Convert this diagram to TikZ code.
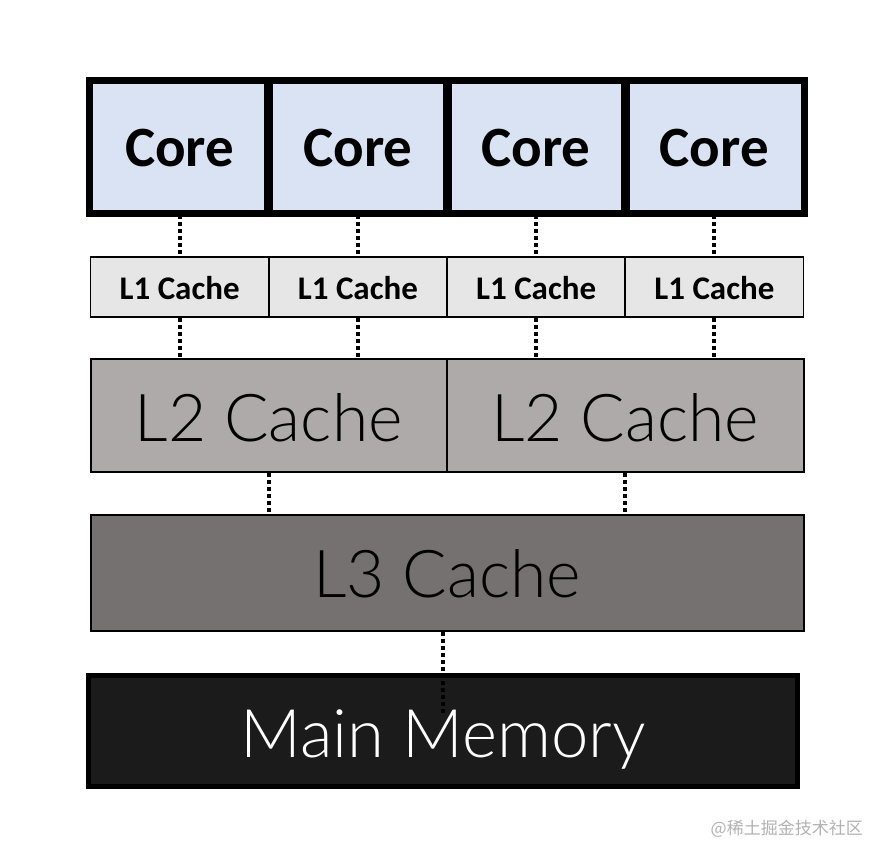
\documentclass[tikz,border=0pt]{standalone}
\usepackage{fontspec}
\setmainfont{Carlito}
\newfontfamily\thinfont{Lato}[UprightFont={* Light}]
\newfontfamily\cjkfont{Noto Sans CJK SC}
\definecolor{corefill}{HTML}{DAE3F3}
\definecolor{lonefill}{HTML}{E7E6E6}
\definecolor{ltwofill}{HTML}{AEAAAA}
\definecolor{lthreefill}{HTML}{767171}
\definecolor{memfill}{HTML}{1B1B1B}
\begin{document}
\begin{tikzpicture}[x=1pt,y=-1pt,
  corebox/.style={draw=black,line width=4.5pt,fill=corefill,minimum width=178.25pt,minimum height=131pt,inner sep=0pt,
    text height=38pt,text depth=0pt,font=\bfseries\fontsize{57}{60}\selectfont},
  lonebox/.style={draw=black,line width=1.8pt,fill=lonefill,minimum width=178.25pt,minimum height=60pt,inner sep=0pt,
    text height=24pt,text depth=0pt,font=\bfseries\fontsize{33}{36}\selectfont},
  ltwobox/.style={draw=black,line width=2pt,fill=ltwofill,minimum width=356.5pt,minimum height=113pt,inner sep=0pt,
    text height=51pt,text depth=0pt,font=\thinfont\fontsize{66}{70}\selectfont},
  lthreebox/.style={draw=black,line width=2pt,fill=lthreefill,minimum width=713pt,minimum height=116pt,inner sep=0pt,
    text height=48pt,text depth=0pt,font=\thinfont\fontsize{66}{70}\selectfont},
  membox/.style={draw=black,line width=4.5pt,fill=memfill,minimum width=709pt,minimum height=111pt,inner sep=0pt,
    text height=52pt,text depth=0pt,text=white,font=\thinfont\fontsize{67}{70}\selectfont},
  dotline/.style={line width=4pt,dash pattern=on 4pt off 3pt}]
\useasboundingbox (0,0) rectangle (870,846);
% cores
\foreach \i/\x in {1/179.625,2/357.875,3/536.125,4/714.375}{
  \node[corebox] (core\i) at (\x,147) {Core};
  \node[lonebox] (lone\i) at (\x,287) {L1 Cache};
}
\node[ltwobox] (ltwoa) at (268.75,415.5) {L2 Cache};
\node[ltwobox] (ltwob) at (625.25,415.5) {L2 Cache};
\node[lthreebox] (lthree) at (447,573) {L3 Cache};
\node[membox] (mem) at (443,731) {Main Memory};
\coordinate (memend) at (443,713);
% redraw core outlines on top
\foreach \i in {1,...,4}{
  \draw[line width=4.5pt] (core\i.north west) rectangle (core\i.south east);
}
% connectors
\foreach \i in {1,...,4}{
  \draw[dotline] (core\i.south) -- (lone\i.north);
}
\foreach \i in {1,2}{
  \draw[dotline] (lone\i.south) -- (lone\i.south |- ltwoa.north);
}
\foreach \i in {3,4}{
  \draw[dotline] (lone\i.south) -- (lone\i.south |- ltwob.north);
}
\draw[dotline] (ltwoa.south) -- (ltwoa.south |- lthree.north);
\draw[dotline] (ltwob.south) -- (ltwob.south |- lthree.north);
\draw[dotline] (mem.north |- lthree.south) -- (memend);
\node[anchor=east,text=black!30,font=\cjkfont\fontsize{17}{20}\selectfont,inner sep=0pt] (wm) at (863,829) {@稀土掘金技术社区};
\end{tikzpicture}
\end{document}
